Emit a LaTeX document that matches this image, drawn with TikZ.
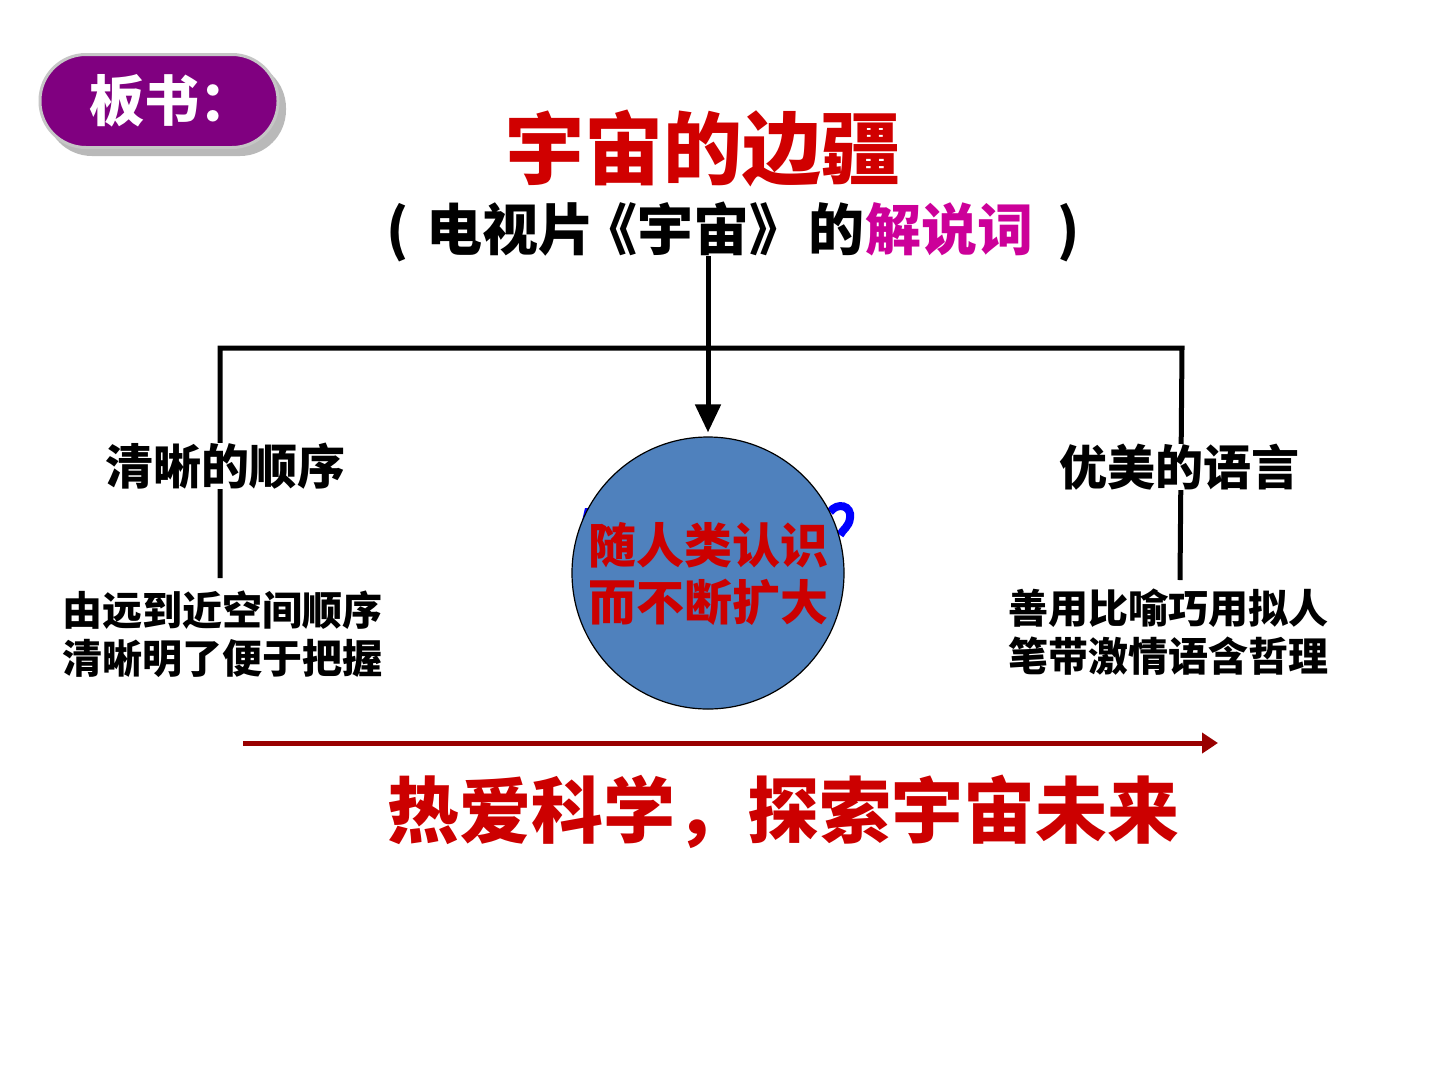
\documentclass[tikz,border=0pt]{standalone}
\usepackage{fontspec}
\newfontfamily\cjk{Noto Sans CJK SC}
\usetikzlibrary{arrows.meta}
\definecolor{titlered}{HTML}{D00000}
\definecolor{txtred}{HTML}{CC0000}
\definecolor{darkred}{HTML}{990000}
\definecolor{mag}{HTML}{CC0099}
\definecolor{badgepurple}{HTML}{800080}
\definecolor{cblue}{HTML}{4F81BD}
\begin{document}
\begin{tikzpicture}[x=1pt,y=-1pt]
\tikzset{
  ln/.style={line width=5pt, black},
  lbl/.style={font=\cjk\bfseries\fontsize{48}{52}\selectfont, fill=white, inner sep=0pt},
  det/.style={font=\cjk\bfseries\fontsize{40}{48}\selectfont, align=center, inner sep=0pt},
  ctext/.style={font=\cjk\bfseries\fontsize{48}{57}\selectfont, align=center, text=txtred, inner sep=0pt},
}
\useasboundingbox (0,0) rectangle (1440,1080);
\fill[white] (0,0) rectangle (1440,1080);
% badge
\fill[gray!55, rounded corners=46pt] (46,62) rectangle (286,156);
\node[draw=gray!45, line width=3pt, fill=badgepurple, rounded corners=46pt,
      minimum width=238pt, minimum height=93pt, inner sep=0pt] (badge) at (159,101) {};
\node[font=\cjk\bfseries\fontsize{55}{60}\selectfont, text=white, inner sep=0pt] (badgetxt) at (172,101) {板书：};
% titles
\node[font=\cjk\bfseries\fontsize{79}{85}\selectfont, text=titlered, inner sep=0pt] (title) at (703,148) {宇宙的边疆};
% connectors
\coordinate (stem) at (708,256);
\coordinate (top) at (708,348);
\coordinate (L) at (220,348);
\coordinate (R) at (1182,348);
\coordinate (ltip) at (220,578);
\coordinate (rtip) at (1180,580);
\draw[ln] (stem) -- (top);
\draw[ln] (ltip) -- (L) -- (R) -- (rtip);
\node[font=\cjk\bfseries\fontsize{56}{60}\selectfont, inner sep=0pt] (subtitle) at (733,232)
  {(\hspace{18pt}电视片\hspace{-14pt}《宇宙》\hspace{4pt}的\textcolor{mag}{解说词}\hspace{24pt})};
% hidden blue text fragments behind the circle
\fill[blue] (582,521) -- (585,508) -- (593,508) -- (591,521) -- cycle;
\draw[blue, line width=8pt] (830,512) .. controls (837,502) and (852,505) .. (850,518) .. controls (849,527) and (843,529) .. (840,535);
% circle
\node[circle, fill=cblue, draw=black, line width=1.2pt, minimum size=272pt, inner sep=0pt] (circ) at (708,573) {};
\node[ctext] (ctxt) at (708,574) {随人类认识\\而不断扩大};
\draw[ln, -{Triangle[length=28pt,width=25pt]}, shorten >=4pt] (top) -- (circ.north);
% labels
\node[lbl] (lseq) at (225,466) {清晰的顺序};
\node[lbl] (rlang) at (1179,467) {优美的语言};
\node[det] (ldet) at (222,634) {由远到近空间顺序\\清晰明了便于把握};
\node[det] (rdet) at (1168,632) {善用比喻巧用拟人\\笔带激情语含哲理};
% bottom arrow
\coordinate (a1) at (243,743);
\coordinate (a2) at (1218,743);
\draw[line width=5pt, darkred, -{Triangle[length=16pt,width=20pt]}] (a1) -- (a2);
\node[font=\cjk\bfseries\fontsize{72}{78}\selectfont, text=txtred, inner sep=0pt] (motto) at (783,812) {热爱科学，探索宇宙未来};
\end{tikzpicture}
\end{document}
